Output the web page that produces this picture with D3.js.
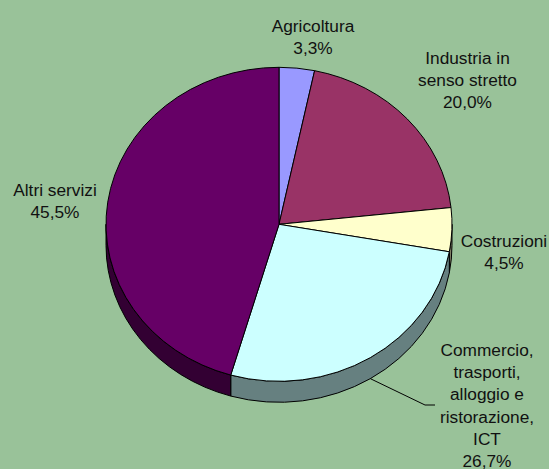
<!DOCTYPE html>
<html>
<head>
<meta charset="utf-8">
<script src="https://cdn.jsdelivr.net/npm/d3@7/dist/d3.min.js"></script>
<style>
  html, body { margin: 0; padding: 0; background: #99c299; }
  svg { display: block; }
</style>
</head>
<body>
<svg id="chart" width="549" height="469"></svg>
<script>
// Value added shares by sector (%)
const categories = [
  "Agricoltura",
  "Industria in senso stretto",
  "Costruzioni",
  "Commercio, trasporti, alloggio e ristorazione, ICT",
  "Altri servizi"
];
const shares = [3.3, 20.0, 4.5, 26.7, 45.5];
const labelLines = [
  ["Agricoltura"],
  ["Industria in", "senso stretto"],
  ["Costruzioni"],
  ["Commercio,", "trasporti,", "alloggio e", "ristorazione,", "ICT"],
  ["Altri servizi"]
];
const sliceColors = ["#9999FF", "#993366", "#FFFFCC", "#CCFFFF", "#660066"];

// Label anchors: centre x and first baseline y
const labelPos = [
  [313, 32],
  [467.5, 64],
  [504, 247],
  [487, 356],
  [55, 196]
];
const lineHeight = 22.2;

const W = 549, H = 469;
const cx = 279, cy = 224.3, rx = 173, ry = 157, depth = 21;

const svg = d3.select("#chart");
svg.append("rect").attr("width", W).attr("height", H).attr("fill", "#99c299");

const data = categories.map((c, i) => ({ name: c, value: shares[i], color: sliceColors[i], lines: labelLines[i], pos: labelPos[i] }));
const pie = d3.pie().sort(null).value(d => d.value).startAngle(0).endAngle(2 * Math.PI);
const arcs = pie(data);

const pt = (a, dy = 0) => [cx + rx * Math.sin(a), cy - ry * Math.cos(a) + dy];
const fmt = v => d3.format(".1f")(v).replace(".", ",") + "%";

function topPath(a0, a1) {
  const p0 = pt(a0), p1 = pt(a1);
  const large = (a1 - a0) > Math.PI ? 1 : 0;
  return `M${cx},${cy}L${p0[0]},${p0[1]}A${rx},${ry} 0 ${large} 1 ${p1[0]},${p1[1]}Z`;
}

function sidePath(a0, a1) {
  const s = Math.max(a0, Math.PI / 2), e = Math.min(a1, 3 * Math.PI / 2);
  if (e <= s) return null;
  const t0 = pt(s), t1 = pt(e), b0 = pt(s, depth), b1 = pt(e, depth);
  const large = (e - s) > Math.PI ? 1 : 0;
  return `M${t0[0]},${t0[1]}A${rx},${ry} 0 ${large} 1 ${t1[0]},${t1[1]}` +
         `L${b1[0]},${b1[1]}A${rx},${ry} 0 ${large} 0 ${b0[0]},${b0[1]}Z`;
}

const darker = c => { const r = d3.rgb(c); return d3.rgb(r.r * 0.5, r.g * 0.5, r.b * 0.5).toString(); };

// Side walls
svg.append("g").selectAll("path")
  .data(arcs.filter(a => sidePath(a.startAngle, a.endAngle)))
  .join("path")
  .attr("d", a => sidePath(a.startAngle, a.endAngle))
  .attr("fill", a => darker(a.data.color))
  .attr("stroke", "#000")
  .attr("stroke-width", 1)
  .attr("stroke-linejoin", "round");

// Top faces
svg.append("g").selectAll("path")
  .data(arcs)
  .join("path")
  .attr("d", a => topPath(a.startAngle, a.endAngle))
  .attr("fill", a => a.data.color)
  .attr("stroke", "#000")
  .attr("stroke-width", 1)
  .attr("stroke-linejoin", "round");

// Leader line for the commerce slice
const commerce = arcs[3];
const mid = (commerce.startAngle + commerce.endAngle) / 2;
const lp = pt(mid, depth);
svg.append("path")
  .attr("d", `M${lp[0]},${lp[1]}L425,405L435,405`)
  .attr("fill", "none")
  .attr("stroke", "#000")
  .attr("stroke-width", 1);

// Labels
const labels = svg.append("g")
  .attr("font-family", "'Liberation Sans', Arial, sans-serif")
  .attr("font-size", "17.3px")
  .attr("fill", "#111")
  .attr("text-anchor", "middle");

arcs.forEach(a => {
  const d = a.data;
  const lines = d.lines.concat([fmt(d.value)]);
  const t = labels.append("text");
  lines.forEach((ln, i) => {
    t.append("tspan")
      .attr("x", d.pos[0])
      .attr("y", d.pos[1] + i * lineHeight)
      .text(ln);
  });
});
</script>
</body>
</html>
